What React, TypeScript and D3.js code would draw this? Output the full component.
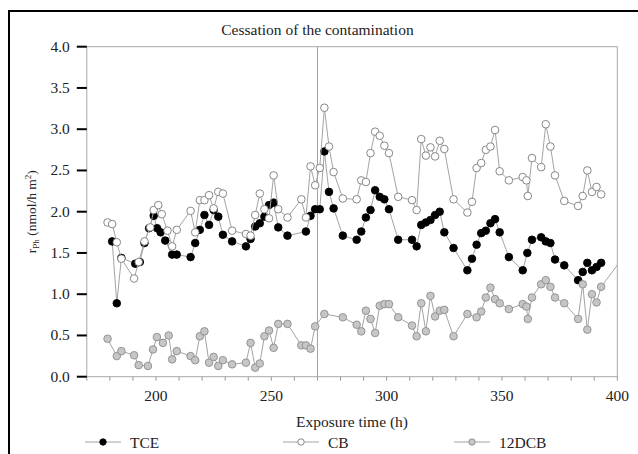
import React from "react";
import * as d3 from "d3";

// Photo-degradation rate time series (h vs nmol/h m2)
const tceHours = [181, 183, 185, 191, 193, 195, 197, 199, 200.5, 202, 204, 207, 209, 215, 217, 219, 221, 223, 225, 227, 229, 233, 239, 241, 243, 245, 247, 249, 251, 253, 257, 265, 267, 269, 271, 273, 275, 277, 281, 287, 289, 291, 293, 295, 297, 299, 301, 305, 311, 313, 315, 317, 319, 321, 323, 325, 329, 335, 337, 339, 341, 343, 345, 347, 349, 353, 359, 361, 363, 367, 369, 371, 373, 377, 383, 385, 387, 389, 391, 393];
const tceRate = [1.64, 0.89, 1.44, 1.37, 1.39, 1.62, 1.8, 1.95, 1.8, 1.75, 1.65, 1.48, 1.48, 1.45, 1.62, 1.78, 1.96, 1.84, 2.02, 1.94, 1.72, 1.64, 1.58, 1.67, 1.82, 1.86, 1.94, 2.08, 2.11, 1.81, 1.71, 1.76, 1.95, 2.03, 2.03, 2.73, 2.24, 2.04, 1.71, 1.66, 1.76, 1.93, 2.02, 2.26, 2.18, 2.15, 2.03, 1.66, 1.66, 1.58, 1.84, 1.87, 1.9, 1.96, 2.0, 1.75, 1.56, 1.29, 1.43, 1.6, 1.74, 1.77, 1.86, 1.91, 1.75, 1.45, 1.29, 1.5, 1.66, 1.69, 1.64, 1.62, 1.42, 1.35, 1.17, 1.27, 1.38, 1.29, 1.33, 1.38];

const cbHours = [179, 181, 183, 185, 190.5, 192.5, 195, 197.5, 199, 201, 202.5, 205, 207, 209, 215, 217, 219, 221, 223, 225, 227, 229, 233, 239, 241, 243, 245, 247, 249, 251, 253, 257, 263, 265, 267, 269, 271, 273, 275, 277, 281, 287, 289, 291, 293, 295, 297, 299, 301, 305, 311, 313, 315, 317, 319, 321, 323, 325, 329, 335, 337, 339, 341, 343, 345, 347, 349, 353, 359, 360.6, 361.2, 363, 367, 369, 371, 373, 377, 383, 385, 387, 389, 391, 393];
const cbRate = [1.87, 1.85, 1.63, 1.43, 1.19, 1.39, 1.64, 1.81, 2.02, 2.08, 1.97, 1.77, 1.58, 1.78, 2.01, 1.75, 2.14, 2.14, 2.2, 2.04, 2.24, 2.22, 1.77, 1.73, 1.71, 1.96, 2.22, 2.03, 1.92, 2.44, 2.03, 1.93, 2.15, 1.93, 2.55, 2.32, 2.53, 3.26, 2.79, 2.48, 2.16, 2.15, 2.38, 2.36, 2.71, 2.97, 2.92, 2.8, 2.71, 2.18, 2.14, 2.02, 2.88, 2.68, 2.78, 2.67, 2.86, 2.76, 2.15, 1.99, 2.12, 2.53, 2.59, 2.75, 2.79, 2.99, 2.49, 2.38, 2.42, 2.38, 2.19, 2.65, 2.54, 3.06, 2.79, 2.44, 2.13, 2.07, 2.19, 2.5, 2.24, 2.3, 2.21];

const dcbHours = [179, 183, 185, 190.5, 192.5, 196.5, 198.7, 200.4, 203, 205.5, 207, 209, 215, 217, 219, 221, 223, 225, 227, 229, 233, 239, 241, 243, 245, 247, 249, 251, 253, 257, 263, 265, 267, 269, 273, 281, 287, 289, 291, 293, 295, 297, 299, 301, 305, 311, 313, 315, 317, 319, 321, 323, 325, 329, 335, 339, 341, 343, 345, 347, 349, 353, 359, 360.6, 361.2, 363, 367, 369, 371, 373, 377, 383, 385, 387, 389, 391, 393, 404];
const dcbRate = [0.46, 0.25, 0.31, 0.26, 0.14, 0.13, 0.33, 0.48, 0.41, 0.5, 0.21, 0.31, 0.25, 0.2, 0.49, 0.55, 0.17, 0.24, 0.13, 0.2, 0.15, 0.17, 0.41, 0.11, 0.16, 0.49, 0.56, 0.35, 0.64, 0.64, 0.38, 0.38, 0.34, 0.61, 0.76, 0.72, 0.63, 0.55, 0.8, 0.7, 0.53, 0.86, 0.88, 0.88, 0.72, 0.62, 0.49, 0.89, 0.55, 0.98, 0.73, 0.8, 0.81, 0.49, 0.76, 0.72, 0.79, 0.96, 1.08, 0.94, 0.89, 0.82, 0.88, 0.85, 0.7, 0.96, 1.12, 1.17, 1.09, 0.96, 0.89, 0.7, 1.12, 0.57, 1.0, 0.9, 1.09, 1.5];

const xTicks = [200, 250, 300, 350, 400];
const yTicks = [0, 0.5, 1, 1.5, 2, 2.5, 3, 3.5, 4];
const cessationHour = 270;

const seriesNames = ["TCE", "CB", "12DCB"];

const W = 638;
const H = 454;
const left = 86.8;
const right = 617.3;
const top = 46.7;
const bottom = 376.7;

const FONT = "Liberation Serif, DejaVu Serif, serif";

type Style = { fill: string; stroke: string };
const styles: Style[] = [
  { fill: "#000000", stroke: "#000000" },
  { fill: "#ffffff", stroke: "#7a7a7a" },
  { fill: "#c6c6c6", stroke: "#8c8c8c" },
];

export default function App() {
  const x = d3.scaleLinear().domain([170, 400]).range([left, right]);
  const y = d3.scaleLinear().domain([0, 4]).range([bottom, top]);

  const series = [
    { name: seriesNames[0], hours: tceHours, rate: tceRate, style: styles[0] },
    { name: seriesNames[1], hours: cbHours, rate: cbRate, style: styles[1] },
    { name: seriesNames[2], hours: dcbHours, rate: dcbRate, style: styles[2] },
  ];

  const line = d3
    .line<[number, number]>()
    .x((d) => x(d[0]))
    .y((d) => y(d[1]));

  const minorTicks = d3.range(170, 401, 10);
  const r = 3.8;

  const legendX = [103, 301, 472];
  const textStyle = { fontFamily: FONT };

  return (
    <svg
      width={W}
      height={H}
      style={{ position: "absolute", left: 0, top: 0, background: "#fff", fontFamily: FONT }}
    >
      <defs>
        <clipPath id="plotClip">
          <rect x={left} y={top - 10} width={right - left} height={bottom - top + 20} />
        </clipPath>
      </defs>
      <rect x={0} y={0} width={W} height={H} fill="#fff" />
      {/* outer page frame */}
      <path d={`M9,${H + 5} L9,11 L${W + 5},11`} fill="none" stroke="#000" strokeWidth={2} />

      {/* plot frame */}
      <rect x={left} y={top} width={right - left} height={bottom - top} fill="none" stroke="#a8a8a8" strokeWidth={1} />
      <line x1={x(cessationHour)} x2={x(cessationHour)} y1={top} y2={bottom} stroke="#a0a0a0" strokeWidth={1} />

      <text x={x(cessationHour)} y={35} textAnchor="middle" fontSize={15.5} fill="#222" style={textStyle}>
        Cessation of the contamination
      </text>

      {/* x axis ticks */}
      {minorTicks.map((t) => (
        <line key={"mx" + t} x1={x(t)} x2={x(t)} y1={bottom} y2={bottom + 4} stroke="#999" strokeWidth={1} />
      ))}
      {xTicks.map((t) => (
        <text key={"xt" + t} x={x(t)} y={401} textAnchor="middle" fontSize={15.5} fill="#222" style={textStyle}>
          {t}
        </text>
      ))}
      <text x={(left + right) / 2} y={427} textAnchor="middle" fontSize={15.5} fill="#222" style={textStyle}>
        Exposure time (h)
      </text>

      {/* y axis ticks */}
      {yTicks.map((t) => (
        <g key={"yt" + t}>
          <line x1={left - 10} x2={left} y1={y(t)} y2={y(t)} stroke="#000" strokeWidth={2} />
          <text x={left - 17} y={y(t) + 5} textAnchor="end" fontSize={15.5} fill="#222" style={textStyle}>
            {t.toFixed(1)}
          </text>
        </g>
      ))}
      <text
        transform={`translate(36,${(top + bottom) / 2}) rotate(-90)`}
        textAnchor="middle"
        fontSize={13.5}
        fill="#222"
        style={textStyle}
      >
        r
        <tspan fontSize={9} dy={3}>Ph</tspan>
        <tspan dy={-3}> (nmol/h m</tspan>
        <tspan fontSize={9} dy={-5}>2</tspan>
        <tspan dy={5}>)</tspan>
      </text>

      {/* series */}
      <g clipPath="url(#plotClip)">
        {series.map((s) => {
          const pts = s.hours.map((h, i) => [h, s.rate[i]] as [number, number]);
          return (
            <g key={s.name}>
              <path d={line(pts) ?? ""} fill="none" stroke="#a3a3a3" strokeWidth={1} />
              {pts.map((p, i) => (
                <circle key={i} cx={x(p[0])} cy={y(p[1])} r={r} fill={s.style.fill} stroke={s.style.stroke} strokeWidth={0.9} />
              ))}
            </g>
          );
        })}
      </g>

      {/* legend */}
      {series.map((s, i) => (
        <g key={"lg" + s.name}>
          <line x1={legendX[i] - 18} x2={legendX[i] + 18} y1={442} y2={442} stroke="#a3a3a3" strokeWidth={1} />
          <circle cx={legendX[i]} cy={442} r={3.2} fill={s.style.fill} stroke={s.style.stroke} strokeWidth={0.9} />
          <text x={legendX[i] + 27} y={447.5} fontSize={15.5} fill="#222" style={textStyle}>
            {s.name}
          </text>
        </g>
      ))}
    </svg>
  );
}
